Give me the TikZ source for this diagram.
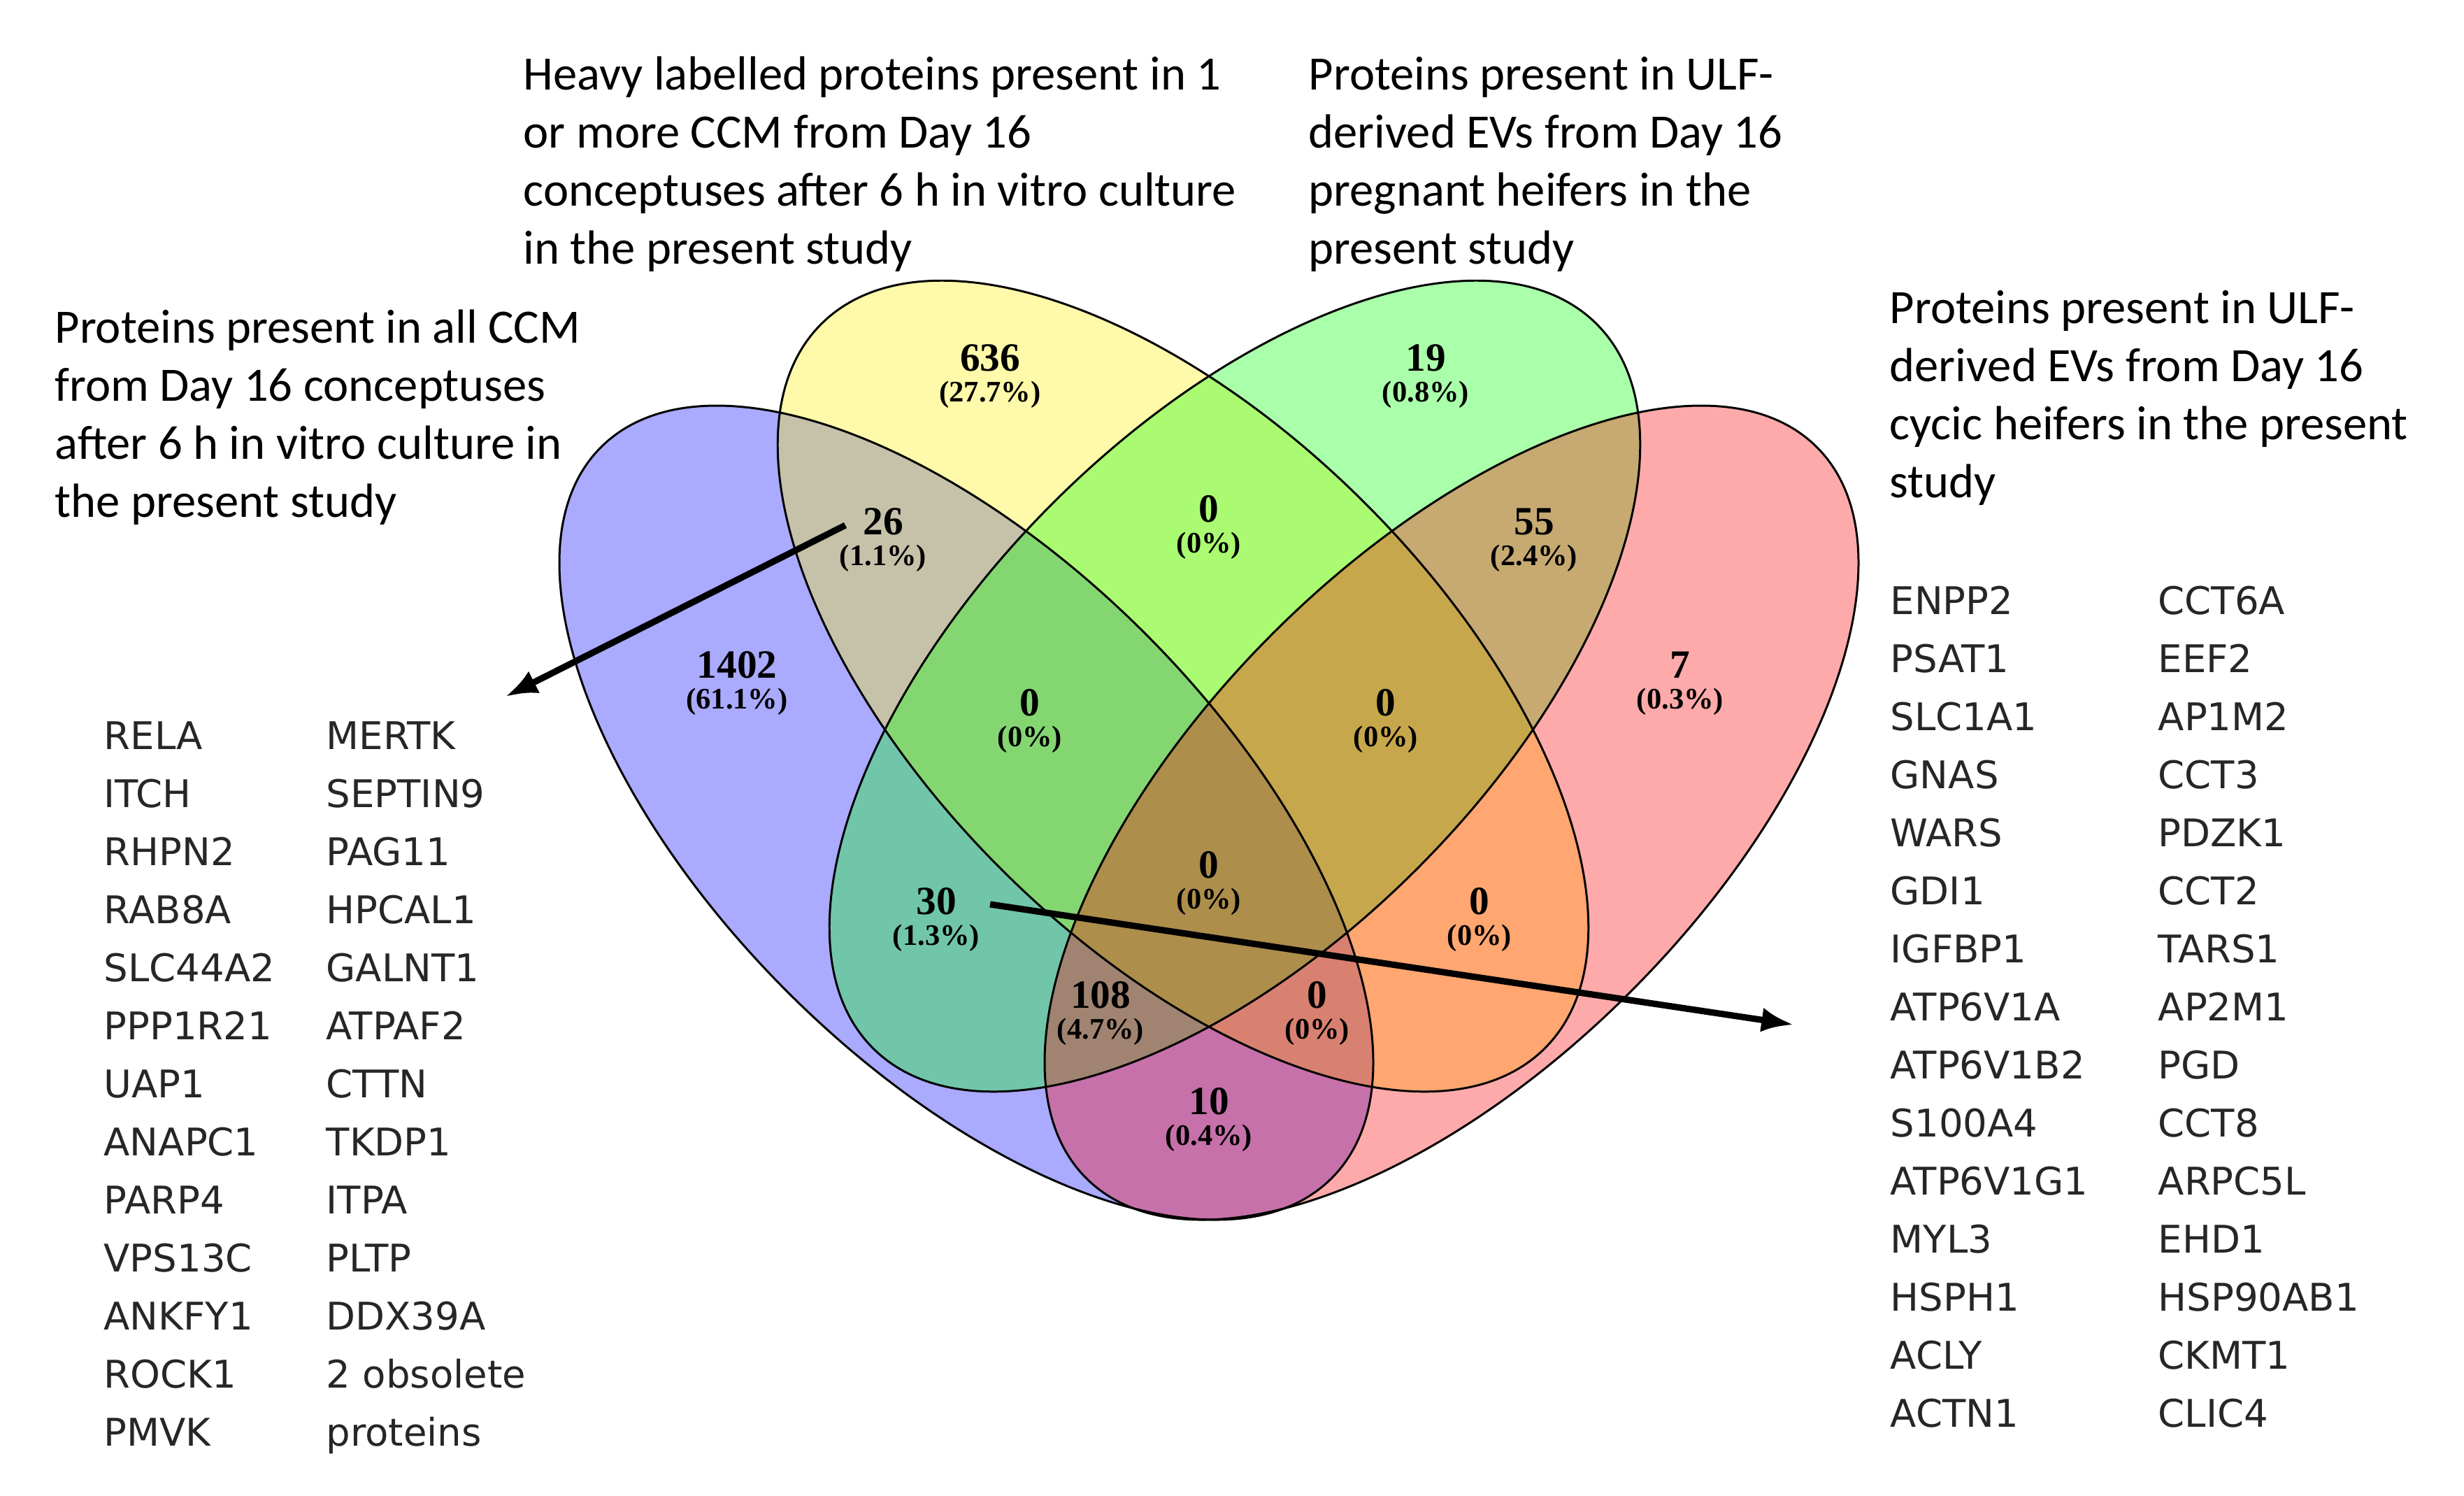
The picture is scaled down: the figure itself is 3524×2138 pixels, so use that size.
\documentclass[tikz,border=0pt]{standalone}
\usepackage{fontspec}
\usepackage{xcolor}
\usepackage{tikz}
\usetikzlibrary{positioning, arrows.meta}
\newfontfamily\calibrifont{Carlito}
\newfontfamily\genefont{DejaVu Sans}
\newfontfamily\timesfont{Liberation Serif}
\tikzset{
    setA/.style={fill=blue, fill opacity=0.333},
    setB/.style={fill=yellow, fill opacity=0.333},
    setC/.style={fill=green, fill opacity=0.333},
    setD/.style={fill=red, fill opacity=0.333},
    rim/.style={draw=black, line width=0.85pt},
    num/.style={inner sep=0pt, font=\timesfont\bfseries\fontsize{16.3}{18}\selectfont},
    pct/.style={inner sep=0pt, font=\timesfont\bfseries\fontsize{12.1}{14}\selectfont},
    % base anchor of a multi-line node sits on its last line
    note/.style={anchor=base west, align=left, inner sep=0pt, font=\calibrifont\fontsize{19.5}{23.6}\selectfont},
    genes/.style={anchor=base west, align=left, inner sep=0pt, text=black!85, font=\genefont\fontsize{15.5}{23.6}\selectfont},
    link/.style={-{Latex[length=13pt, width=10pt]}, line width=2.6pt}
}
\begin{document}
\begin{tikzpicture}[x=0.01cm, y=-0.01cm]
    \useasboundingbox[fill=white] (0,0) rectangle (3524,2138);

    % Ellipses
    \fill[setA, shift={(1382,1162)}, rotate=-45] (0,0) ellipse [x radius=739, y radius=362];
    \fill[setB, shift={(1692,981)}, rotate=-45] (0,0) ellipse [x radius=732, y radius=369];
    \fill[setC, shift={(1766,981)}, rotate=45] (0,0) ellipse [x radius=732, y radius=369];
    \fill[setD, shift={(2076,1162)}, rotate=45] (0,0) ellipse [x radius=739, y radius=362];
    \draw[rim, shift={(1382,1162)}, rotate=-45] (0,0) ellipse [x radius=739, y radius=362];
    \draw[rim, shift={(1692,981)}, rotate=-45] (0,0) ellipse [x radius=732, y radius=369];
    \draw[rim, shift={(1766,981)}, rotate=45] (0,0) ellipse [x radius=732, y radius=369];
    \draw[rim, shift={(2076,1162)}, rotate=45] (0,0) ellipse [x radius=739, y radius=362];

    % Set labels
    \node[note] (lblB) at (748,377) {Heavy labelled proteins present in 1\\or more CCM from Day 16\\conceptuses after 6 h in vitro culture\\in the present study};
    \node[note] (lblC) at (1871,377) {Proteins present in ULF-\\derived EVs from Day 16\\pregnant heifers in the\\present study};
    \node[note] (lblA) at (78,739) {Proteins present in all CCM\\from Day 16 conceptuses\\after 6 h in vitro culture in\\the present study};
    \node[note] (lblD) at (2702,711) {Proteins present in ULF-\\derived EVs from Day 16\\cycic heifers in the present\\study};

    % Region counts
    \node[num] (nB) at (1416,512) {636};
    \node[pct, below=3.5pt of nB] (pB) {(27.7\%)};
    \node[num] (nC) at (2039,512) {19};
    \node[pct, below=3.5pt of nC] (pC) {(0.8\%)};
    \node[num] (nAB) at (1263,746) {26};
    \node[pct, below=3.5pt of nAB] (pAB) {(1.1\%)};
    \node[num] (nBC) at (1729,728) {0};
    \node[pct, below=3.5pt of nBC] (pBC) {(0\%)};
    \node[num] (nCD) at (2194,746) {55};
    \node[pct, below=3.5pt of nCD] (pCD) {(2.4\%)};
    \node[num] (nA) at (1054,951) {1402};
    \node[pct, below=3.5pt of nA] (pA) {(61.1\%)};
    \node[num] (nD) at (2403,951) {7};
    \node[pct, below=3.5pt of nD] (pD) {(0.3\%)};
    \node[num] (nABC) at (1473,1005) {0};
    \node[pct, below=3.5pt of nABC] (pABC) {(0\%)};
    \node[num] (nBCD) at (1982,1005) {0};
    \node[pct, below=3.5pt of nBCD] (pBCD) {(0\%)};
    \node[num] (nAC) at (1339,1289) {30};
    \node[pct, below=3.5pt of nAC] (pAC) {(1.3\%)};
    \node[num] (nABCD) at (1729,1237) {0};
    \node[pct, below=3.5pt of nABCD] (pABCD) {(0\%)};
    \node[num] (nBD) at (2116,1289) {0};
    \node[pct, below=3.5pt of nBD] (pBD) {(0\%)};
    \node[num] (nACD) at (1574,1423) {108};
    \node[pct, below=3.5pt of nACD] (pACD) {(4.7\%)};
    \node[num] (nABD) at (1884,1423) {0};
    \node[pct, below=3.5pt of nABD] (pABD) {(0\%)};
    \node[num] (nAD) at (1729,1575) {10};
    \node[pct, below=3.5pt of nAD] (pAD) {(0.4\%)};

    % Protein lists
    \node[genes] (listAB) at (148,2067) {RELA\\ITCH\\RHPN2\\RAB8A\\SLC44A2\\PPP1R21\\UAP1\\ANAPC1\\PARP4\\VPS13C\\ANKFY1\\ROCK1\\PMVK};
    \node[genes] (listABb) at (466,2067) {MERTK\\SEPTIN9\\PAG11\\HPCAL1\\GALNT1\\ATPAF2\\CTTN\\TKDP1\\ITPA\\PLTP\\DDX39A\\2 obsolete\\proteins};
    \node[genes] (listAC) at (2703,2040) {ENPP2\\PSAT1\\SLC1A1\\GNAS\\WARS\\GDI1\\IGFBP1\\ATP6V1A\\ATP6V1B2\\S100A4\\ATP6V1G1\\MYL3\\HSPH1\\ACLY\\ACTN1};
    \node[genes] (listACb) at (3086,2040) {CCT6A\\EEF2\\AP1M2\\CCT3\\PDZK1\\CCT2\\TARS1\\AP2M1\\PGD\\CCT8\\ARPC5L\\EHD1\\HSP90AB1\\CKMT1\\CLIC4};

    % Pointers
    \coordinate (fromAB) at (1209,751);
    \coordinate (toListAB) at (723,996);
    \coordinate (fromAC) at (1416,1293);
    \coordinate (toListAC) at (2565,1465);
    \draw[link] (fromAB) -- (toListAB);
    \draw[link] (fromAC) -- (toListAC);

\end{tikzpicture}
\end{document}
